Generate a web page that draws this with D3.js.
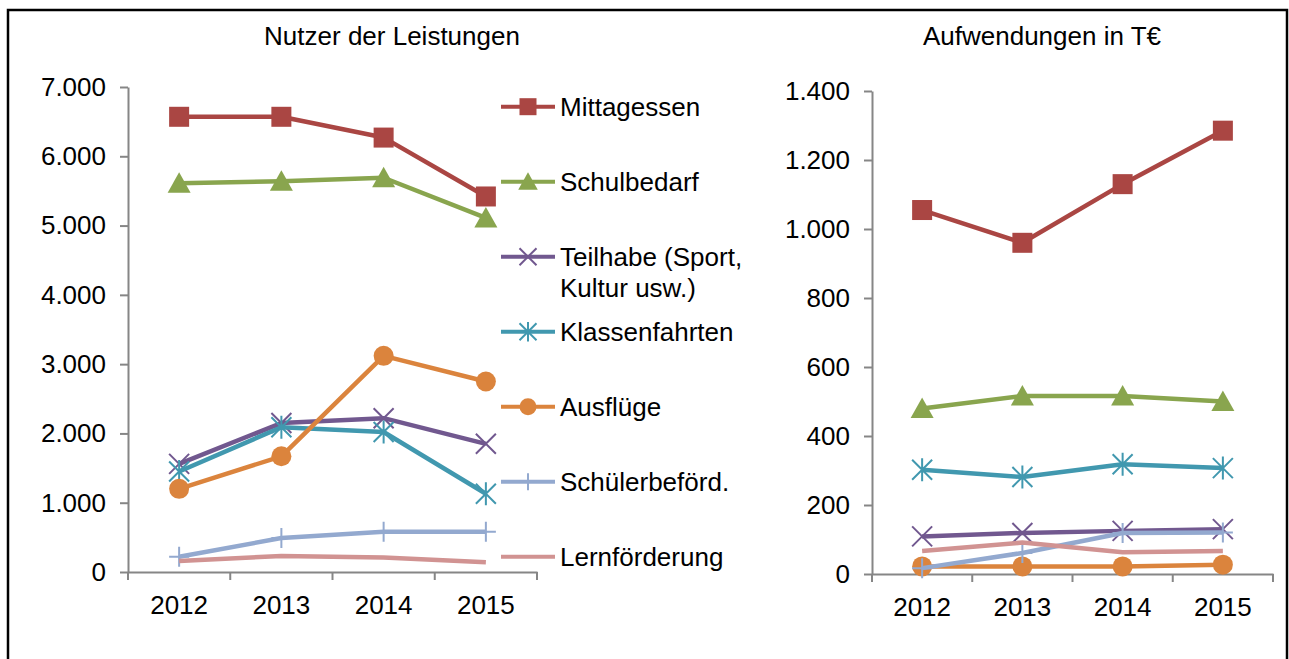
<!DOCTYPE html>
<html>
<head>
<meta charset="utf-8">
<script src="https://cdn.jsdelivr.net/npm/d3@7"></script>
<style>
    body { margin: 0; background: #fff; }
    svg { display: block; font-family: 'Liberation Sans', Arial, sans-serif; }
</style>
</head>
<body>
<svg id="chart" width="1289" height="659"></svg>
<script>
'use strict';

const years = ['2012', '2013', '2014', '2015'];
const seriesNames = ['Mittagessen', 'Schulbedarf', 'Teilhabe (Sport,|Kultur usw.)', 'Klassenfahrten',
    'Ausflüge', 'Schülerbeförd.', 'Lernförderung'];

// Nutzer der Leistungen
const nutzerMittagessen = [6570, 6570, 6270, 5420];
const nutzerSchulbedarf = [5610, 5640, 5690, 5110];
const nutzerTeilhabe = [1560, 2150, 2220, 1850];
const nutzerKlassenfahrten = [1450, 2090, 2020, 1130];
const nutzerAusfluege = [1200, 1670, 3120, 2750];
const nutzerSchuelerbef = [220, 490, 580, 580];
const nutzerLernfoerderung = [160, 230, 210, 140];

// Aufwendungen in T€
const aufwMittagessen = [1055, 960, 1130, 1285];
const aufwSchulbedarf = [480, 516, 516, 500];
const aufwTeilhabe = [109, 119, 125, 130];
const aufwKlassenfahrten = [302, 281, 318, 307];
const aufwAusfluege = [22, 22, 22, 27];
const aufwSchuelerbef = [17, 61, 119, 120];
const aufwLernfoerderung = [67, 91, 63, 67];

const colors = ['#AA4643', '#89A54E', '#71588F', '#4198AF', '#DB843D', '#93A9CF', '#D19392'];
const markers = ['square', 'triangle', 'x', 'star', 'circle', 'plus', 'none'];

const nutzer = [nutzerMittagessen, nutzerSchulbedarf, nutzerTeilhabe, nutzerKlassenfahrten,
    nutzerAusfluege, nutzerSchuelerbef, nutzerLernfoerderung];
const aufwendungen = [aufwMittagessen, aufwSchulbedarf, aufwTeilhabe, aufwKlassenfahrten,
    aufwAusfluege, aufwSchuelerbef, aufwLernfoerderung];

const de = d3.formatLocale({ decimal: ',', thousands: '.', grouping: [3], currency: ['', ' €'] });
const fmt = de.format(',');

const svg = d3.select('#chart');
const axisColor = '#868686';
const fontSize = 26;

// outer frame
svg.append('rect')
    .attr('x', 8)
    .attr('y', 10)
    .attr('width', 1279)
    .attr('height', 700)
    .attr('fill', 'none')
    .attr('stroke', '#000')
    .attr('stroke-width', 2.5);

function drawMarker(g, type, color, s) {
    const h = s / 2;
    if (type === 'square') {
        g.append('rect').attr('x', -h).attr('y', -h).attr('width', s).attr('height', s)
            .attr('fill', color);
    } else if (type === 'triangle') {
        g.append('path').attr('d', `M0,${-h * 1.1}L${h * 1.15},${h * 0.95}L${-h * 1.15},${h * 0.95}Z`)
            .attr('fill', color);
    } else if (type === 'circle') {
        g.append('circle').attr('r', h).attr('fill', color);
    } else if (type === 'x') {
        g.append('path').attr('d', `M${-h},${-h}L${h},${h}M${-h},${h}L${h},${-h}`)
            .attr('stroke', color).attr('stroke-width', 2).attr('fill', 'none');
    } else if (type === 'star') {
        g.append('path').attr('d', `M${-h},${-h}L${h},${h}M${-h},${h}L${h},${-h}M0,${-h * 1.15}L0,${h * 1.15}`)
            .attr('stroke', color).attr('stroke-width', 2).attr('fill', 'none');
    } else if (type === 'plus') {
        g.append('path').attr('d', `M0,${-h}L0,${h}M${-h},0L${h},0`)
            .attr('stroke', color).attr('stroke-width', 2).attr('fill', 'none');
    }
}

function drawChart(cfg) {
    const x = d3.scaleBand().domain(years).range([cfg.x0, cfg.x1]).padding(0);
    const y = d3.scaleLinear().domain([0, cfg.max]).range([cfg.yBottom, cfg.yTop]);
    const g = svg.append('g');

    // title
    g.append('text')
        .attr('x', cfg.titleX)
        .attr('y', 36)
        .attr('dy', '0.35em')
        .attr('text-anchor', 'middle')
        .attr('font-size', fontSize)
        .attr('fill', '#000')
        .text(cfg.title);

    // y axis
    const yAxis = g.append('g')
        .attr('transform', `translate(${cfg.x0},0)`)
        .call(d3.axisLeft(y)
            .tickValues(d3.range(0, cfg.max + 1, cfg.step))
            .tickFormat(fmt)
            .tickSizeInner(8)
            .tickSizeOuter(0)
            .tickPadding(14));
    yAxis.select('.domain').attr('stroke', axisColor).attr('stroke-width', 2);
    yAxis.selectAll('.tick line').attr('stroke', axisColor).attr('stroke-width', 2);
    yAxis.selectAll('.tick text')
        .attr('font-size', fontSize)
        .attr('font-family', 'Liberation Sans, Arial, sans-serif')
        .attr('fill', '#000');

    // x axis
    const xAxis = g.append('g')
        .attr('transform', `translate(0,${cfg.yBottom})`)
        .call(d3.axisBottom(x).tickSize(0).tickPadding(24));
    xAxis.select('.domain').attr('stroke', axisColor).attr('stroke-width', 2);
    xAxis.selectAll('.tick text')
        .attr('font-size', fontSize)
        .attr('font-family', 'Liberation Sans, Arial, sans-serif')
        .attr('fill', '#000');
    // category boundary ticks
    const bounds = years.map(d => x(d)).concat([x(years[years.length - 1]) + x.bandwidth()]);
    xAxis.selectAll('.bound')
        .data(bounds)
        .enter()
        .append('line')
        .attr('class', 'bound')
        .attr('x1', d => d)
        .attr('x2', d => d)
        .attr('y1', 0)
        .attr('y2', 8)
        .attr('stroke', axisColor)
        .attr('stroke-width', 2);

    const cx = d => x(d) + x.bandwidth() / 2;
    const line = d3.line()
        .x((v, i) => cx(years[i]))
        .y(v => y(v));

    cfg.data.forEach((vals, si) => {
        const sg = g.append('g');
        sg.append('path')
            .datum(vals)
            .attr('d', line)
            .attr('fill', 'none')
            .attr('stroke', colors[si])
            .attr('stroke-width', 4.5)
            .attr('stroke-linejoin', 'round');
        vals.forEach((v, i) => {
            const mg = sg.append('g').attr('transform', `translate(${cx(years[i])},${y(v)})`);
            drawMarker(mg, markers[si], colors[si], 20);
        });
    });
}

drawChart({
    title: 'Nutzer der Leistungen',
    titleX: 392,
    x0: 128, x1: 537, yTop: 87, yBottom: 572,
    max: 7000, step: 1000,
    data: nutzer
});

drawChart({
    title: 'Aufwendungen in T€',
    titleX: 1042,
    x0: 872, x1: 1273, yTop: 91, yBottom: 574,
    max: 1400, step: 200,
    data: aufwendungen
});

// legend
const legendTop = 106.7;
const legendGap = 75;
const legend = svg.append('g');
seriesNames.forEach((name, i) => {
    const ly = legendTop + i * legendGap;
    const lg = legend.append('g').attr('transform', `translate(0,${ly})`);
    lg.append('line')
        .attr('x1', 501)
        .attr('x2', 555)
        .attr('stroke', colors[i])
        .attr('stroke-width', 4);
    const mg = lg.append('g').attr('transform', 'translate(528,0)');
    drawMarker(mg, markers[i], colors[i], 17);
    const t = lg.append('text')
        .attr('x', 560)
        .attr('y', 0)
        .attr('dy', '0.35em')
        .attr('font-size', fontSize)
        .attr('fill', '#000');
    name.split('|').forEach((part, k) => {
        t.append('tspan')
            .attr('x', 560)
            .attr('dy', k === 0 ? '0.35em' : '31px')
            .text(part);
    });
});
</script>
</body>
</html>
